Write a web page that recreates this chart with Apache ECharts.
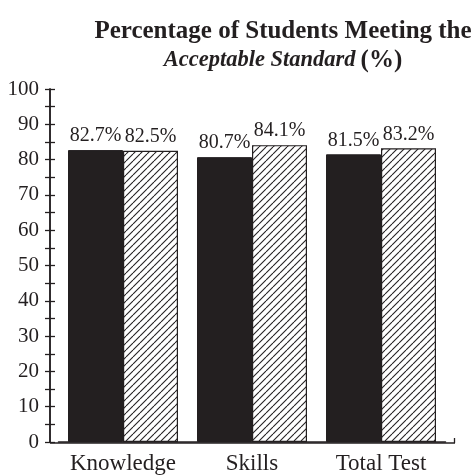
<!DOCTYPE html>
<html><head><meta charset="utf-8">
<script src="https://cdn.jsdelivr.net/npm/echarts@6/dist/echarts.min.js"></script>
<style>html,body{margin:0;padding:0;background:#fff}#c{width:474px;height:475px}</style>
</head><body><div id="c"></div>
<script>
const categories = ['Knowledge', 'Skills', 'Total Test'];
const seriesA = [82.7, 80.7, 81.5];
const seriesB = [82.5, 84.1, 83.2];
const yTicks = [0, 10, 20, 30, 40, 50, 60, 70, 80, 90, 100];

const INK = '#231f20';
const FONT = '"Liberation Serif", "Times New Roman", serif';

function hatch() {
  const s = 7;
  const c = document.createElement('canvas');
  c.width = s; c.height = s;
  const g = c.getContext('2d');
  g.fillStyle = '#fff'; g.fillRect(0, 0, s, s);
  g.strokeStyle = INK; g.lineWidth = 1.1;
  for (const off of [-s, 0, s]) {
    g.beginPath(); g.moveTo(off, s); g.lineTo(off + s, 0); g.stroke();
  }
  return c;
}

const chart = echarts.init(document.getElementById('c'), null, {renderer: 'canvas'});
const label = {
  show: true, position: 'top', distance: 4,
  fontFamily: FONT, fontSize: 20, color: INK,
  formatter: p => p.value.toFixed(1) + '%'
};
const yBase = {
  type: 'value', min: yTicks[0], max: yTicks[yTicks.length - 1], interval: 10,
  offset: 8.5,
  axisLine: {show: true, lineStyle: {color: INK, width: 1.5}},
  splitLine: {show: false},
  minorTick: {show: true, splitNumber: 2, length: 5, lineStyle: {color: INK, width: 1.3}},
  axisTick: {show: true, length: 5, lineStyle: {color: INK, width: 1.3}}
};
chart.setOption({
  animation: false,
  title: {
    left: 278, top: 12, textAlign: 'center',
    text: '{b|Percentage of Students Meeting the}\n{i|Acceptable Standard} {b|(%)}',
    textStyle: {
      rich: {
        b: {fontFamily: FONT, fontWeight: 'bold', fontSize: 25, color: INK, lineHeight: 29},
        i: {fontFamily: FONT, fontWeight: 'bold', fontStyle: 'italic', fontSize: 22.5, color: INK, lineHeight: 29}
      }
    }
  },
  grid: {left: 58.5, right: 28.5, top: 89, bottom: 32, containLabel: false},
  xAxis: {
    type: 'category', data: categories,
    axisLine: {show: true, lineStyle: {color: INK, width: 1.5}},
    axisTick: {show: false},
    axisLabel: {interval: 0, fontFamily: FONT, fontSize: 23, color: INK, margin: 10}
  },
  yAxis: [
    Object.assign({}, yBase, {
      axisTick: Object.assign({}, yBase.axisTick, {inside: false}),
      axisLabel: {fontFamily: FONT, fontSize: 21, color: INK, margin: 11}
    }),
    Object.assign({}, yBase, {
      position: 'left',
      axisTick: Object.assign({}, yBase.axisTick, {inside: true}),
      minorTick: Object.assign({}, yBase.minorTick),
      axisLabel: {show: false}
    })
  ],
  series: [
    {type: 'bar', data: seriesA, barWidth: 55, barGap: '0%', yAxisIndex: 0,
     itemStyle: {color: INK, borderColor: INK, borderWidth: 1}, label: label},
    {type: 'bar', data: seriesB, barWidth: 55, barGap: '0%', yAxisIndex: 0,
     itemStyle: {color: {image: hatch(), repeat: 'repeat'}, borderColor: INK, borderWidth: 1.2}, label: label}
  ],
  graphic: [
    {type: 'line', shape: {x1: 50, y1: 443, x2: 455, y2: 443}, style: {stroke: INK, lineWidth: 1.5}, z: 100},
    {type: 'line', shape: {x1: 454.5, y1: 438, x2: 454.5, y2: 443}, style: {stroke: INK, lineWidth: 1.3}, z: 100}
  ]
});
</script></body></html>
